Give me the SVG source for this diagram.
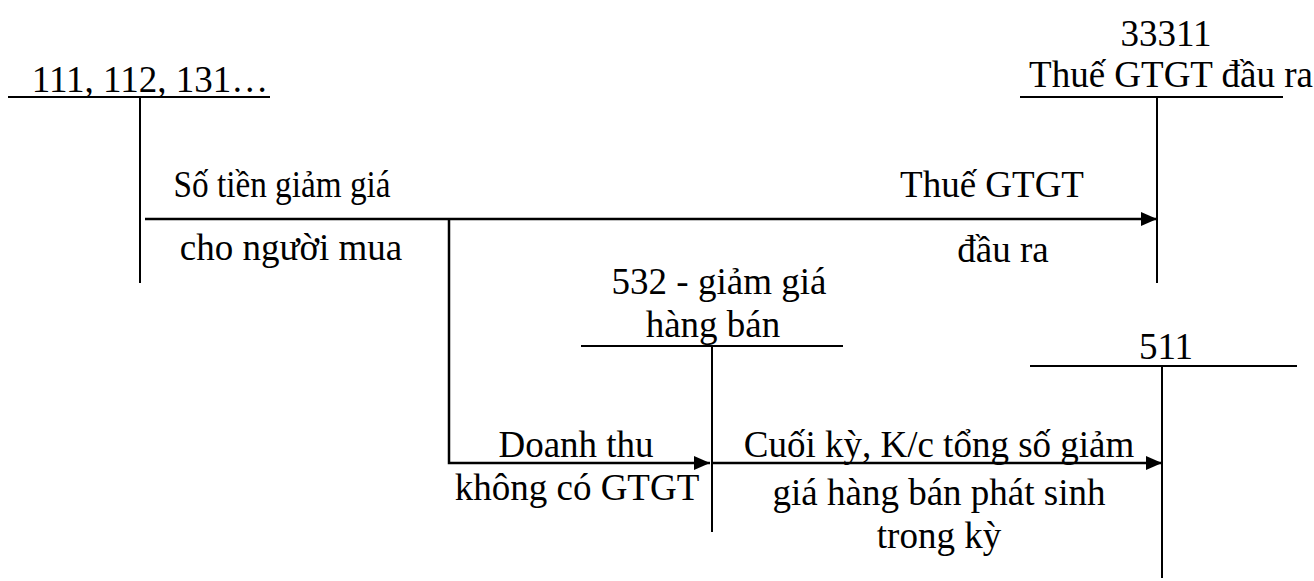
<svg xmlns="http://www.w3.org/2000/svg" width="1314" height="581" viewBox="0 0 1314 581">
<style>
text{font-family:"Liberation Serif","Times New Roman",serif;font-size:37px;fill:#000;text-anchor:middle}
.acc line{stroke:#000;stroke-width:2}
.conn path{stroke:#000;stroke-width:2.5;fill:none}
</style>
<defs>
<marker id="ah" markerWidth="16" markerHeight="14" refX="16" refY="7" orient="auto" markerUnits="userSpaceOnUse">
<path d="M0,0 L16,7 L0,14 Z" fill="#000"/>
</marker>
</defs>
<rect width="1314" height="581" fill="#fff"/>
<g id="acc111" class="acc">
<line x1="8" y1="97" x2="270" y2="97"/>
<line x1="140" y1="97" x2="140" y2="283"/>
<text x="150" y="92">111, 112, 131…</text>
</g>
<g id="acc33311" class="acc">
<line x1="1020" y1="97" x2="1283" y2="97"/>
<line x1="1157" y1="97" x2="1157" y2="283"/>
<text x="1166" y="46">33311</text>
<text x="1171" y="87">Thuế GTGT đầu ra</text>
</g>
<g id="acc532" class="acc">
<line x1="581" y1="346" x2="843" y2="346"/>
<line x1="712" y1="346" x2="712" y2="532"/>
<text x="719" y="294">532 - giảm giá</text>
<text x="713" y="337">hàng bán</text>
</g>
<g id="acc511" class="acc">
<line x1="1030" y1="366" x2="1297" y2="366"/>
<line x1="1162" y1="366" x2="1162" y2="578"/>
<text x="1166" y="359">511</text>
</g>
<g id="connectors" class="conn">
<path d="M145,219 H1157" marker-end="url(#ah)"/>
<path d="M449,219 V463 H710" marker-end="url(#ah)"/>
<path d="M712,463 H1162" marker-end="url(#ah)"/>
</g>
<g id="labels">
<text x="282" y="197" textLength="217" lengthAdjust="spacingAndGlyphs">Số tiền giảm giá</text>
<text x="291" y="260">cho người mua</text>
<text x="992" y="197">Thuế GTGT</text>
<text x="1003" y="262">đầu ra</text>
<text x="576" y="457">Doanh thu</text>
<text x="577" y="500">không có GTGT</text>
<text x="939" y="457">Cuối kỳ, K/c tổng số giảm</text>
<text x="939" y="505">giá hàng bán phát sinh</text>
<text x="939" y="548">trong kỳ</text>
</g>
</svg>
